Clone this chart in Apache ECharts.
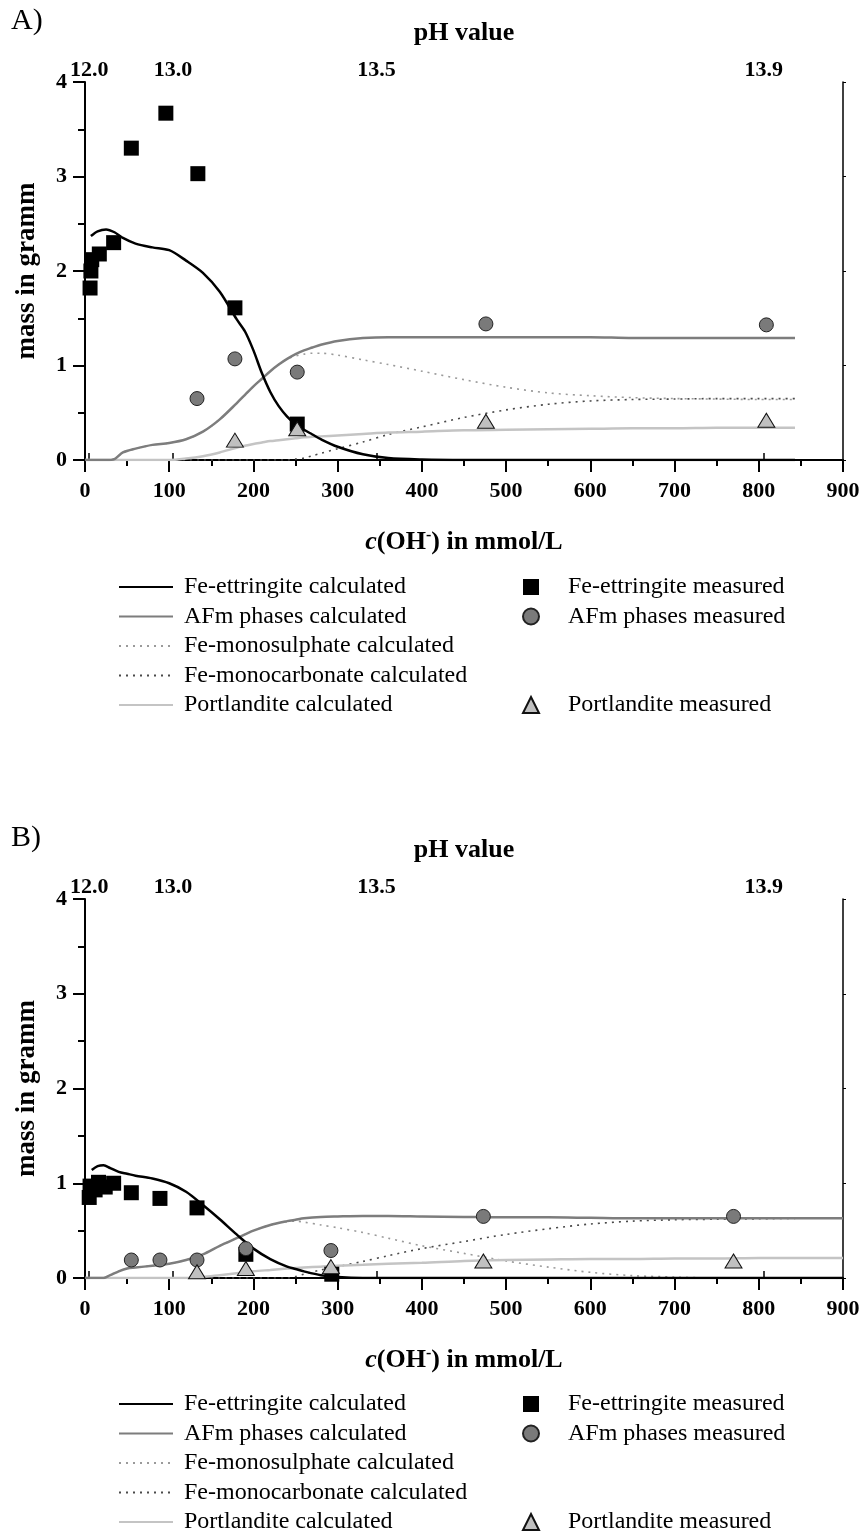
<!DOCTYPE html>
<html>
<head>
<meta charset="utf-8">
<script src="https://cdn.jsdelivr.net/npm/echarts@6/dist/echarts.min.js"></script>
<style>
html,body{margin:0;padding:0;background:#fff;}
#chart{width:864px;height:1536px;}
</style>
</head>
<body>
<div id="chart"></div>
<script>
// ---------- DATA ----------
// top axis: pH labels and their positions on the c(OH-) scale
const pHLabels = ['12.0', '13.0', '13.5', '13.9'];
const pHPos = [5, 104.5, 346, 806];

// ---- Panel A ----
const calcX_A = [0, 7, 15, 25, 35, 45, 60, 80, 100, 120, 140, 160, 180, 190, 200, 210, 220, 230, 240, 250, 260, 270, 280, 300, 330, 360, 400, 450, 500, 550, 600, 650, 700, 750, 800, 843];
const ettCalc_A = [null, 2.37, 2.42, 2.44, 2.41, 2.35, 2.29, 2.25, 2.22, 2.11, 1.98, 1.78, 1.49, 1.36, 1.16, 0.92, 0.72, 0.57, 0.46, 0.38, 0.32, 0.27, 0.22, 0.14, 0.06, 0.02, 0.005, 0, 0, 0, 0, 0, 0, 0, 0, 0];
const afmCalc_A = [0, 0, 0, 0, 0.01, 0.08, 0.12, 0.16, 0.18, 0.22, 0.30, 0.43, 0.60, 0.69, 0.78, 0.86, 0.94, 1.01, 1.07, 1.12, 1.16, 1.19, 1.22, 1.26, 1.29, 1.30, 1.30, 1.30, 1.30, 1.30, 1.30, 1.29, 1.29, 1.29, 1.29, 1.29];
const monoSCalc_A = [0, 0, 0, 0, 0.01, 0.08, 0.12, 0.16, 0.18, 0.22, 0.30, 0.43, 0.60, 0.69, 0.78, 0.86, 0.94, 1.01, 1.07, 1.10, 1.12, 1.13, 1.13, 1.11, 1.06, 1.01, 0.94, 0.85, 0.77, 0.71, 0.68, 0.66, 0.65, 0.645, 0.64, 0.64];
const monoCCalc_A = [0, 0, 0, 0, 0, 0, 0, 0, 0, 0, 0, 0, 0, 0, 0, 0, 0, 0, 0, 0.01, 0.02, 0.045, 0.07, 0.12, 0.19, 0.27, 0.35, 0.45, 0.53, 0.59, 0.625, 0.64, 0.645, 0.65, 0.65, 0.65];
const portCalc_A = [0, 0, 0, 0, 0, 0, 0, 0, 0, 0.015, 0.04, 0.08, 0.13, 0.15, 0.17, 0.185, 0.20, 0.21, 0.22, 0.23, 0.24, 0.245, 0.25, 0.26, 0.275, 0.29, 0.30, 0.315, 0.32, 0.325, 0.33, 0.335, 0.335, 0.34, 0.34, 0.34];

const ettMeasX_A = [6, 7, 8, 17, 34, 55, 96, 134, 178, 252];
const ettMeasY_A = [1.82, 2.00, 2.12, 2.18, 2.30, 3.30, 3.67, 3.03, 1.61, 0.38];
const afmMeasX_A = [133, 178, 252, 476, 809];
const afmMeasY_A = [0.65, 1.07, 0.93, 1.44, 1.43];
const portMeasX_A = [178, 252, 476, 809];
const portMeasY_A = [0.21, 0.33, 0.41, 0.42];

// ---- Panel B ----
const calcX_B = [0, 8, 15, 22, 30, 40, 50, 60, 80, 100, 120, 140, 160, 180, 200, 220, 240, 250, 260, 280, 300, 330, 360, 400, 450, 500, 550, 600, 650, 700, 750, 800, 850, 900];
const ettCalc_B = [null, 1.14, 1.18, 1.19, 1.16, 1.12, 1.10, 1.08, 1.05, 1.00, 0.91, 0.77, 0.62, 0.46, 0.31, 0.20, 0.12, 0.095, 0.07, 0.03, 0.01, 0, 0, 0, 0, 0, 0, 0, 0, 0, 0, 0, 0, 0];
const afmCalc_B = [0, 0, 0, 0, 0.03, 0.07, 0.10, 0.11, 0.13, 0.15, 0.19, 0.25, 0.34, 0.42, 0.50, 0.56, 0.60, 0.615, 0.63, 0.645, 0.65, 0.655, 0.655, 0.65, 0.645, 0.64, 0.64, 0.635, 0.63, 0.63, 0.63, 0.63, 0.63, 0.63];
const monoSCalc_B = [0, 0, 0, 0, 0.03, 0.07, 0.10, 0.11, 0.13, 0.15, 0.19, 0.25, 0.34, 0.42, 0.50, 0.56, 0.595, 0.60, 0.59, 0.56, 0.53, 0.48, 0.42, 0.34, 0.26, 0.18, 0.115, 0.06, 0.025, 0.01, 0, 0, 0, 0];
const monoCCalc_B = [0, 0, 0, 0, 0, 0, 0, 0, 0, 0, 0, 0, 0, 0, 0, 0, 0, 0.015, 0.04, 0.085, 0.12, 0.175, 0.235, 0.31, 0.385, 0.46, 0.52, 0.57, 0.60, 0.615, 0.62, 0.625, 0.63, 0.63];
const portCalc_B = [0, 0, 0, 0, 0, 0, 0, 0, 0, 0, 0, 0.01, 0.03, 0.05, 0.07, 0.085, 0.10, 0.105, 0.11, 0.12, 0.13, 0.14, 0.15, 0.16, 0.18, 0.19, 0.195, 0.20, 0.20, 0.205, 0.205, 0.21, 0.21, 0.21];

const ettMeasX_B = [5, 6, 12, 16, 24, 34, 55, 89, 133, 191, 293];
const ettMeasY_B = [0.85, 0.97, 0.93, 1.01, 0.96, 1.00, 0.90, 0.84, 0.74, 0.25, 0.04];
const afmMeasX_B = [55, 89, 133, 191, 292, 473, 770];
const afmMeasY_B = [0.19, 0.19, 0.19, 0.31, 0.29, 0.65, 0.65];
const portMeasX_B = [133, 191, 292, 473, 770];
const portMeasY_B = [0.066, 0.10, 0.12, 0.18, 0.18];

// ---------- CHART ----------
const FONT = "'Liberation Serif', 'Times New Roman', Times, serif";
const names = {
  ettC: 'Fe-ettringite calculated', afmC: 'AFm phases calculated', msC: 'Fe-monosulphate calculated',
  mcC: 'Fe-monocarbonate calculated', poC: 'Portlandite calculated',
  ettM: 'Fe-ettringite measured', afmM: 'AFm phases measured', poM: 'Portlandite measured'
};
function pairs(xs, ys) {
  const out = [];
  for (let i = 0; i < xs.length; i++) if (ys[i] !== null && ys[i] !== undefined) out.push([xs[i], ys[i]]);
  return out;
}
const gridTop = [82, 899];
const gridH = [378, 379];
const axisLineStyle = { color: '#000', width: 2 };
const tickLabel = { color: '#000', fontFamily: FONT, fontWeight: 'bold', fontSize: 22 };

const grids = [], xAxes = [], yAxes = [], series = [], legends = [], graphics = [];
const panels = [
  { ett: ettCalc_A, afm: afmCalc_A, ms: monoSCalc_A, mc: monoCCalc_A, po: portCalc_A, cx: calcX_A,
    em: [ettMeasX_A, ettMeasY_A], am: [afmMeasX_A, afmMeasY_A], pm: [portMeasX_A, portMeasY_A], label: 'A)' },
  { ett: ettCalc_B, afm: afmCalc_B, ms: monoSCalc_B, mc: monoCCalc_B, po: portCalc_B, cx: calcX_B,
    em: [ettMeasX_B, ettMeasY_B], am: [afmMeasX_B, afmMeasY_B], pm: [portMeasX_B, portMeasY_B], label: 'B)' }
];
panels.forEach((p, k) => {
  const top = gridTop[k];
  grids.push({ left: 85, width: 758, top: top, height: gridH[k], outerBoundsMode: 'none', containLabel: false });
  const xb = xAxes.length;
  // bottom c(OH-) axis
  xAxes.push({
    gridIndex: k, type: 'value', position: 'bottom', min: 0, max: 900, interval: 100,
    axisLine: { show: true, onZero: false, lineStyle: axisLineStyle },
    axisTick: { show: true, length: 12, lineStyle: { color: '#000', width: 2 } },
    minorTick: { show: true, splitNumber: 2, length: 6, lineStyle: { color: '#000', width: 2 } },
    splitLine: { show: false }, minorSplitLine: { show: false },
    axisLabel: Object.assign({ margin: 20, showMinLabel: true, showMaxLabel: true }, tickLabel),
    name: '{i|c}{b|(OH}{s|-}{b|) in mmol/L}', nameLocation: 'middle', nameGap: 68,
    nameTextStyle: { color: '#000', fontFamily: FONT, rich: {
      i: { fontFamily: FONT, fontSize: 26, fontWeight: 'bold', fontStyle: 'italic', color: '#000', lineHeight: 28 },
      b: { fontFamily: FONT, fontSize: 26, fontWeight: 'bold', color: '#000', lineHeight: 28 },
      s: { fontFamily: FONT, fontSize: 16, fontWeight: 'bold', color: '#000', verticalAlign: 'top', lineHeight: 16 }
    } }
  });
  // top pH axis
  xAxes.push({
    gridIndex: k, type: 'value', position: 'top', min: 0, max: 900,
    axisLine: { show: true, lineStyle: axisLineStyle },
    axisTick: { show: true, length: 7, customValues: pHPos, lineStyle: { color: '#000', width: 1.5 } },
    splitLine: { show: false },
    axisLabel: Object.assign({ margin: 1, customValues: pHPos,
      formatter: v => pHLabels[pHPos.indexOf(v)] }, tickLabel),
    name: 'pH value', nameLocation: 'middle', nameGap: 36,
    nameTextStyle: { color: '#000', fontFamily: FONT, fontWeight: 'bold', fontSize: 26 }
  });
  // top minor ticks
  xAxes.push({
    gridIndex: k, type: 'value', position: 'top', min: 0, max: 900, interval: 50,
    axisLine: { show: false }, axisTick: { show: true, inside: true, length: 3, lineStyle: { color: '#000', width: 1 } },
    axisLabel: { show: false }, splitLine: { show: false }
  });
  const yl = yAxes.length;
  yAxes.push({
    gridIndex: k, type: 'value', position: 'left', min: 0, max: 4, interval: 1,
    axisLine: { show: true, onZero: false, lineStyle: axisLineStyle },
    axisTick: { show: true, length: 12, lineStyle: { color: '#000', width: 2 } },
    minorTick: { show: true, splitNumber: 2, length: 7, lineStyle: { color: '#000', width: 2 } },
    splitLine: { show: false }, minorSplitLine: { show: false },
    axisLabel: Object.assign({ margin: 18 }, tickLabel),
    name: 'mass in gramm', nameLocation: 'middle', nameGap: 44,
    nameTextStyle: { color: '#000', fontFamily: FONT, fontWeight: 'bold', fontSize: 27 }
  });
  yAxes.push({
    gridIndex: k, type: 'value', position: 'right', min: 0, max: 4, interval: 1,
    axisLine: { show: true, onZero: false, lineStyle: { color: '#000', width: 1.5 } },
    axisTick: { show: true, length: 3, lineStyle: { color: '#000', width: 1 } },
    axisLabel: { show: false }, splitLine: { show: false }
  });
  const lineBase = { type: 'line', xAxisIndex: xb, yAxisIndex: yl, symbol: 'none', smooth: 0.3, z: 2, silent: true };
  series.push(Object.assign({}, lineBase, { name: names.msC, data: pairs(p.cx, p.ms),
    lineStyle: { color: '#9a9a9a', width: 1.6, type: [2, 5] }, itemStyle: { color: '#9a9a9a' } }));
  series.push(Object.assign({}, lineBase, { name: names.mcC, data: pairs(p.cx, p.mc),
    lineStyle: { color: '#4a4a4a', width: 1.6, type: [2, 5] }, itemStyle: { color: '#4a4a4a' } }));
  series.push(Object.assign({}, lineBase, { name: names.poC, data: pairs(p.cx, p.po),
    lineStyle: { color: '#c4c4c4', width: 2.5 }, itemStyle: { color: '#c4c4c4' } }));
  series.push(Object.assign({}, lineBase, { name: names.afmC, data: pairs(p.cx, p.afm),
    lineStyle: { color: '#7d7d7d', width: 2.5 }, itemStyle: { color: '#7d7d7d' } }));
  series.push(Object.assign({}, lineBase, { name: names.ettC, data: pairs(p.cx, p.ett),
    lineStyle: { color: '#000', width: 2.5 }, itemStyle: { color: '#000' } }));
  const scBase = { type: 'scatter', xAxisIndex: xb, yAxisIndex: yl, z: 5, silent: true };
  series.push(Object.assign({}, scBase, { name: names.ettM, data: pairs(p.em[0], p.em[1]),
    symbol: 'rect', symbolSize: 15, itemStyle: { color: '#000', borderColor: '#000', borderWidth: 0, opacity: 1 } }));
  series.push(Object.assign({}, scBase, { name: names.afmM, data: pairs(p.am[0], p.am[1]),
    symbol: 'circle', symbolSize: 14, itemStyle: { color: '#7a7a7a', borderColor: '#222', borderWidth: 1, opacity: 1 } }));
  series.push(Object.assign({}, scBase, { name: names.poM, data: pairs(p.pm[0], p.pm[1]),
    symbol: 'triangle', symbolSize: [17, 14], itemStyle: { color: '#c0c0c0', borderColor: '#111', borderWidth: 1, opacity: 1 } }));

  // legends
  const legTop = top + 493;
  const legText = { color: '#000', fontFamily: FONT, fontSize: 24, lineHeight: 24 };
  legends.push({ orient: 'vertical', left: 118, top: legTop, itemWidth: 54, itemHeight: 14, itemGap: 5.5,
    selectedMode: false, padding: 0, textStyle: legText, formatter: n => ' ' + n,
    itemStyle: { opacity: 0 },
    data: [names.ettC, names.afmC, names.msC, names.mcC, names.poC] });
  legends.push({ orient: 'vertical', left: 522, top: legTop, itemWidth: 16, itemHeight: 16, itemGap: 5.5,
    selectedMode: false, padding: 0, textStyle: legText, formatter: n => '    ' + n,
    data: [names.ettM, names.afmM] });
  legends.push({ orient: 'vertical', left: 522, top: legTop + 118, itemWidth: 16, itemHeight: 16, itemGap: 5.5,
    selectedMode: false, padding: 0, textStyle: legText, formatter: n => '    ' + n,
    data: [names.poM] });
  graphics.push({ type: 'text', left: 11, top: top - 76, style: { text: p.label, fontFamily: FONT, fontSize: 30, fill: '#000' } });
});

const chart = echarts.init(document.getElementById('chart'), null, { renderer: 'canvas' });
chart.setOption({
  backgroundColor: '#fff',
  animation: false,
  grid: grids, xAxis: xAxes, yAxis: yAxes, series: series, legend: legends, graphic: graphics
});
</script>
</body>
</html>
